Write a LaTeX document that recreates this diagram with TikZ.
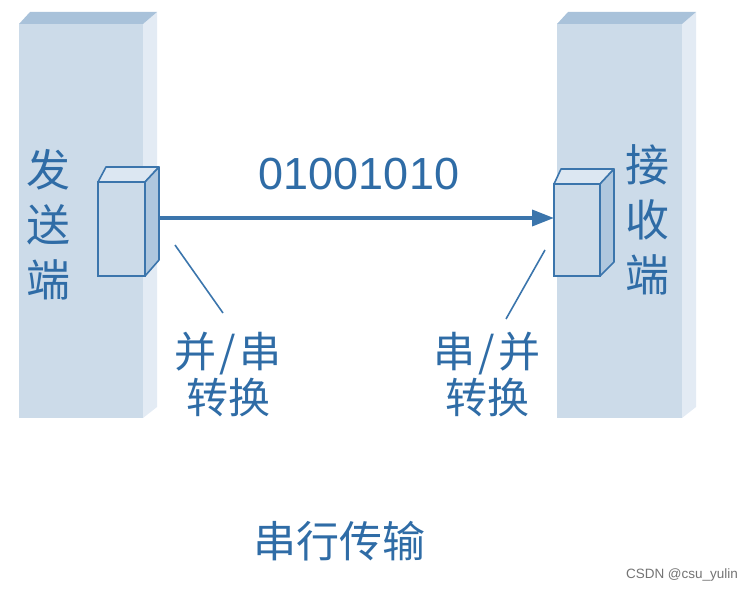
\documentclass[tikz,border=0pt]{standalone}
\usepackage{fontspec}
\setmainfont{Liberation Sans}
\newfontfamily\cjk{Noto Sans CJK SC}
\usetikzlibrary{arrows.meta,calc}
\definecolor{slabfront}{HTML}{CCDBE9}
\definecolor{slabtop}{HTML}{A9C2DA}
\definecolor{slabside}{HTML}{E3EBF4}
\definecolor{boxtop}{HTML}{DCE7F2}
\definecolor{boxside}{HTML}{AFC7DE}
\definecolor{lineblue}{HTML}{3B75AC}
\definecolor{textblue}{HTML}{2F6CA6}
\tikzset{
  slabfacefront/.style={fill=slabfront,draw=none},
  slabfacetop/.style={fill=slabtop,draw=none},
  slabfaceside/.style={fill=slabside,draw=none},
  convbox/.style={rectangle,draw=lineblue,line width=1.6pt,fill=slabfront,inner sep=0pt,outer sep=0pt},
  boxface/.style={draw=lineblue,line width=1.6pt,line join=round},
  cjklabel/.style={text=textblue,font=\cjk\fontsize{42}{46}\selectfont,align=center,inner sep=0pt},
  sidelabel/.style={text=textblue,font=\cjk\fontsize{44}{55}\selectfont,align=center,inner sep=0pt},
  pointer/.style={draw=lineblue,line width=1.6pt},
}
\newcommand{\convslash}{\hspace{3pt}/\hspace{3pt}}
\begin{document}
\begin{tikzpicture}[x=1pt,y=-1pt]
\useasboundingbox (0,0) rectangle (756,591);
% left slab
\fill[slabfaceside] (143,24) -- (157,12) -- (157,407) -- (143,418) -- cycle;
\fill[slabfacetop] (19,24) -- (30,12) -- (157,12) -- (143,24) -- cycle;
\fill[slabfacefront] (19,24) rectangle (143,418);
% right slab
\fill[slabfaceside] (682,24) -- (696,12) -- (696,407) -- (682,418) -- cycle;
\fill[slabfacetop] (557,24) -- (568,12) -- (696,12) -- (682,24) -- cycle;
\fill[slabfacefront] (557,24) rectangle (682,418);
% left converter box
\node[convbox,minimum width=47pt,minimum height=94pt] (lbox) at (121.5,229) {};
\filldraw[boxface,fill=boxtop] (lbox.north west) -- ++(8,-15) -- ++(53,0) -- (lbox.north east) -- cycle;
\filldraw[boxface,fill=boxside] (lbox.north east) -- ++(14,-15) -- ++(0,93) -- (lbox.south east) -- cycle;
% right converter box
\node[convbox,minimum width=46pt,minimum height=92pt] (rbox) at (577,230) {};
\filldraw[boxface,fill=boxtop] (rbox.north west) -- ++(7,-15) -- ++(53,0) -- (rbox.north east) -- cycle;
\filldraw[boxface,fill=boxside] (rbox.north east) -- ++(14,-15) -- ++(0,93) -- (rbox.south east) -- cycle;
% arrow
\coordinate (lout) at (159,218);
\draw[draw=lineblue,line width=3.6pt,-{Triangle[length=22pt,width=16pt]}] (lout) -- (rbox.west |- lout);
\node[text=textblue,font=\fontsize{45}{50}\selectfont,inner sep=0pt] (bits) at (359,174) {01001010};
% side labels
\node[sidelabel] (send) at (49,225) {发\\送\\端};
\node[sidelabel] (recv) at (647,220) {接\\收\\端};
% conversion labels
\node[cjklabel] (lconv) at (228,374) {并\convslash 串\\转换};
\node[cjklabel] (rconv) at (487,374) {串\convslash 并\\转换};
\coordinate (lp1) at (175,245);
\coordinate (lp2) at (223,313);
\coordinate (rp1) at (545,250);
\coordinate (rp2) at (506,319);
\draw[pointer] (lp1) -- (lp2);
\draw[pointer] (rp1) -- (rp2);
% caption
\node[text=textblue,font=\cjk\fontsize{43}{48}\selectfont,inner sep=0pt] (caption) at (339,541) {串行传输};
\node[text=black!55,font=\fontsize{13.5}{15}\selectfont,inner sep=0pt] (mark) at (682,575) {CSDN @csu\_yulin};
\end{tikzpicture}
\end{document}
